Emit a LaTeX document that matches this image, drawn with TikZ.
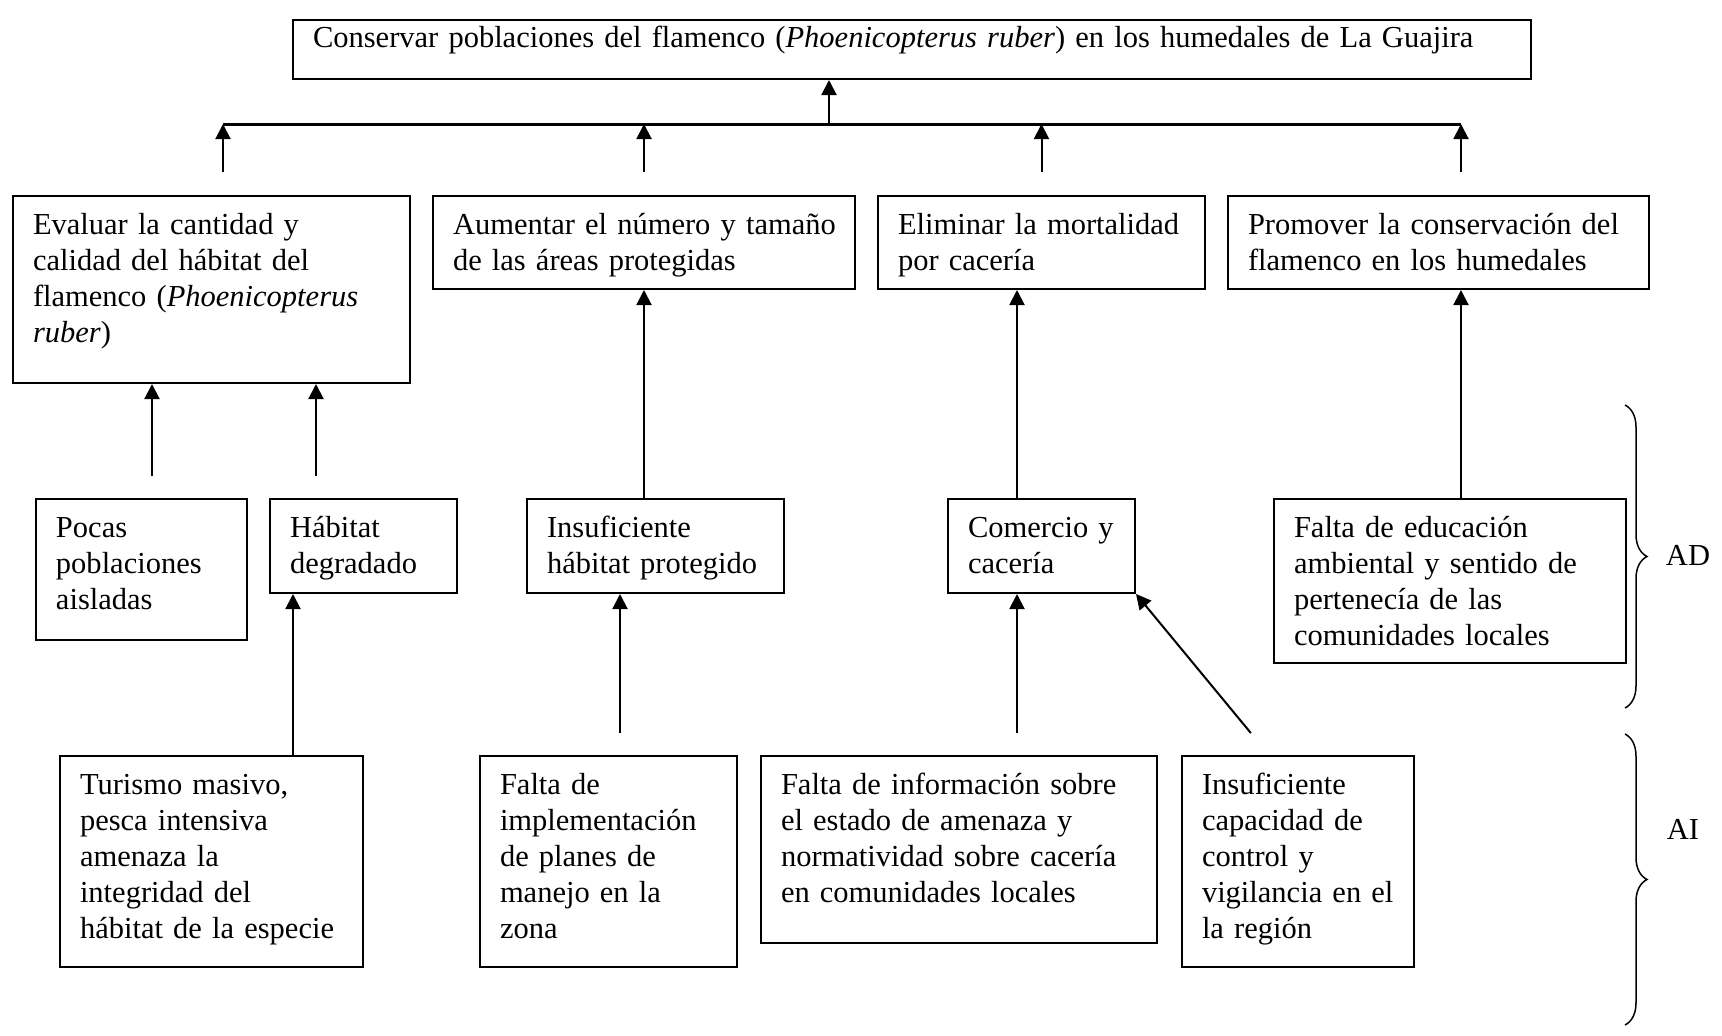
\documentclass[tikz,border=0pt]{standalone}
\usepackage{fontspec}
\setmainfont{Liberation Serif}
\usetikzlibrary{arrows.meta,decorations.pathreplacing}

\begin{document}
\begin{tikzpicture}[x=0.4pt,y=-0.4pt,
                    font=\fontsize{12.2}{14.4}\selectfont,
                    caja/.style={draw,line width=0.8pt,anchor=north west,align=left,inner xsep=8pt,inner ysep=0pt,text height=15.2pt},
                    flecha/.style={line width=0.8pt,-{Triangle[length=6pt,width=6pt]}},
                    llave/.style={line width=0.6pt,decorate,decoration={brace,amplitude=8.8pt}}]
                    \fill[white] (0,0) rectangle (1722,1035);
                    \useasboundingbox (0,0) rectangle (1722,1035);

                    % Nodes
                    \node[caja,text width=479.2pt,text height=10.8pt,text depth=12.8pt] (meta) at (292,19) {Conservar poblaciones del flamenco (\textit{Phoenicopterus ruber}) en los humedales de La Guajira};

                    \node[caja,text width=142.8pt,text depth=59.6pt] (obj1) at (12,195) {Evaluar la cantidad y\\ calidad del hábitat del\\ flamenco (\textit{Phoenicopterus}\\ \textit{ruber})};
                    \node[caja,text width=152.8pt,text depth=22pt] (obj2) at (432,195) {\mbox{Aumentar el número y tamaño}\\ de las áreas protegidas};
                    \node[caja,text width=114.8pt,text depth=22pt] (obj3) at (877,195) {Eliminar la mortalidad\\ por cacería};
                    \node[caja,text width=152.4pt,text depth=22pt] (obj4) at (1227,195) {Promover la conservación del\\ flamenco en los humedales};

                    \node[caja,text width=68.4pt,text depth=41.2pt] (ad1) at (35,498) {Pocas\\ poblaciones\\ aisladas};
                    \node[caja,text width=58.8pt,text depth=22.4pt] (ad2) at (269,498) {Hábitat\\ degradado};
                    \node[caja,text width=86.8pt,text depth=22.4pt] (ad3) at (526,498) {Insuficiente\\ hábitat protegido};
                    \node[caja,text width=58.8pt,text depth=22.4pt] (ad4) at (947,498) {\mbox{Comercio y}\\ cacería};
                    \node[caja,text width=124.8pt,text depth=50.4pt] (ad5) at (1273,498) {Falta de educación\\ ambiental y sentido de\\ pertenecía de las\\ comunidades locales};

                    \node[caja,text width=105.2pt,text depth=69.2pt] (ai1) at (59,755) {Turismo masivo,\\ pesca intensiva\\ amenaza la\\ integridad del\\ hábitat de la especie};
                    \node[caja,text width=86.8pt,text depth=69.2pt] (ai2) at (479,755) {Falta de\\ implementación\\ de planes de\\ manejo en la\\ zona};
                    \node[caja,text width=142.4pt,text depth=59.6pt] (ai3) at (760,755) {Falta de información sobre\\ el estado de amenaza y\\ normatividad sobre cacería\\ en comunidades locales};
                    \node[caja,text width=76.8pt,text depth=69.2pt] (ai4) at (1181,755) {Insuficiente\\ capacidad de\\ control y\\ vigilancia en el\\ la región};

                    \node (AD) at (1688,555) {AD};
                    \node (AI) at (1683,829) {AI};

                    % Arrows
                    \coordinate (barra) at (829,124);
                    \coordinate (b1) at ([xshift=84.4pt]obj1.north west);
                    \coordinate (b4) at ([xshift=93.6pt]obj4.north west);
                    \draw[line width=1.2pt] (b1 |- barra) -- (b4 |- barra);
                    \draw[flecha] (barra) -- (barra |- meta.south);
                    \foreach \c in {b1,obj2.north,obj3.north,b4}
                        \draw[flecha,shorten <=9.2pt] (\c) -- (\c |- barra);

                    \coordinate (c1) at ([xshift=46.8pt]ad1.north west);
                    \coordinate (c2) at ([xshift=18.8pt]ad2.north west);
                    \coordinate (c3) at ([xshift=93.6pt]ai1.north west);
                    \coordinate (c5) at ([xshift=56.4pt]ai2.north west);
                    \coordinate (c6) at ([xshift=28pt]ad4.north west);
                    \coordinate (c7) at (c6 |- ai3.north);
                    \coordinate (c8) at ([xshift=35.2pt]ai4.north west);
                    \coordinate (c9) at ([xshift=75.2pt]ad5.north west);
                    \draw[flecha,shorten <=8.8pt] (c1) -- (c1 |- obj1.south);
                    \draw[flecha,shorten <=8.8pt] (c2) -- (c2 |- obj1.south);
                    \draw[flecha] (c3) -- (c3 |- ad2.south);
                    \draw[flecha] (obj2.south |- ad3.north) -- (obj2.south);
                    \draw[flecha,shorten <=8.8pt] (c5) -- (c5 |- ad3.south);
                    \draw[flecha] (c6) -- (c6 |- obj3.south);
                    \draw[flecha,shorten <=8.8pt] (c7) -- (c6 |- ad4.south);
                    \draw[flecha,shorten <=11.4pt] (c8) -- (ad4.south east);
                    \draw[flecha] (c9) -- (c9 |- obj4.south);

                    % Braces
                    \draw[llave] (1625,405) -- (1625,708);
                    \draw[llave] (1625,734) -- (1625,1025);
                \end{tikzpicture}
\end{document}
